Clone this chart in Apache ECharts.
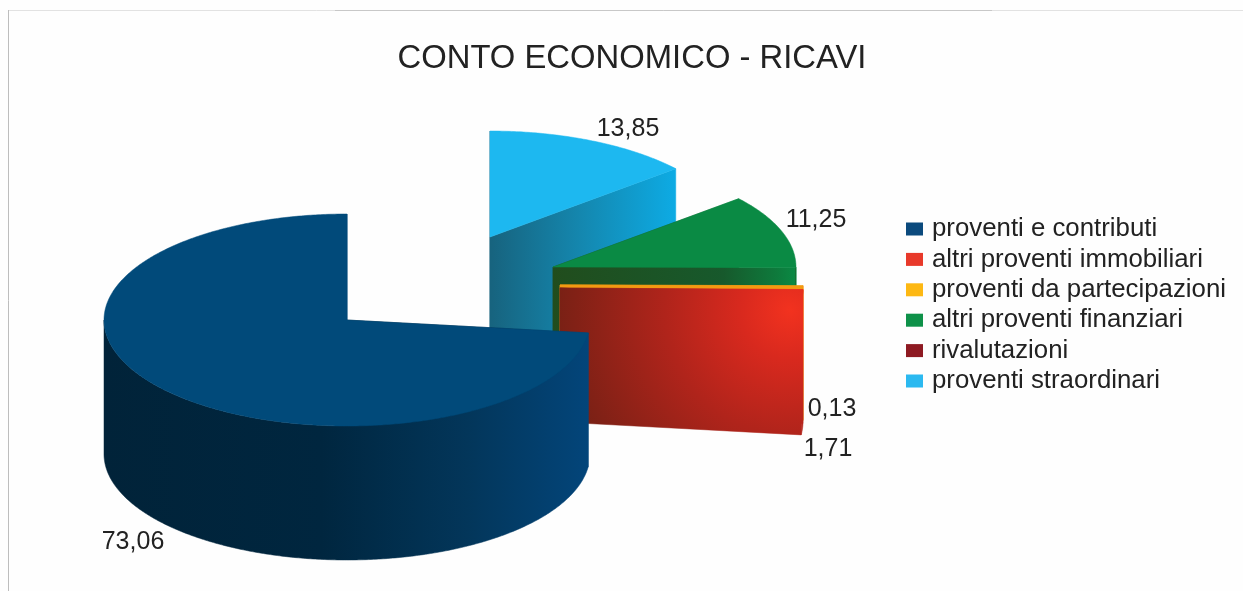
<!DOCTYPE html>
<html>
<head>
<meta charset="utf-8">
<style>html,body{margin:0;padding:0;background:#fff}#chart{width:1243px;height:591px}</style>
<script src="https://cdn.jsdelivr.net/npm/echarts@6/dist/echarts.min.js"></script>
</head>
<body>
<div id="chart"></div>
<script>
const categories = ['proventi e contributi', 'altri proventi immobiliari', 'proventi da partecipazioni', 'altri proventi finanziari', 'rivalutazioni', 'proventi straordinari'];
const values = [73.06, 1.71, 0.13, 11.25, 0, 13.85];
const legendColors = ['#0b4a7d', '#e8392a', '#fdb813', '#0e9149', '#8e1a22', '#2bb9f0'];

// layout of the exploded pie
const RX = 243, RY = 106, DEPTH = 134;
const centers = [[347, 320], [560, 288], [560, 285], [553, 267], [553, 267], [490, 237]];
const labelPos = [[133, 542], [828, 449], [832, 409], [816, 220], [0, 0], [628, 129]];
const zOrder = [5, 4, 3.5, 3, 2, 1];

const h = (stops, x, y, x2, y2) => ({
  type: 'linear', x: x || 0, y: y || 0, x2: x2 === undefined ? 1 : x2, y2: y2 || 0,
  colorStops: stops.map(s => ({offset: s[0], color: s[1]}))
});
// global so the red faces share one light spot
const redFill = {
  type: 'radial', x: 790, y: 310, r: 250, global: true,
  colorStops: [{offset: 0, color: '#f2321f'}, {offset: 0.2, color: '#d8291e'}, {offset: 0.5, color: '#b0241b'}, {offset: 1, color: '#702014'}]
};
const topFills = ['#014a7a', redFill, '#f39a12', '#0a8a44', '#8e1a22', '#1db8f0'];
const wallFills = [
  h([[0, '#012339'], [0.45, '#00263f'], [0.75, '#03365a'], [1, '#03457a']]),
  redFill,
  '#f39a12',
  h([[0, '#214d1d'], [0.7, '#17592c'], [0.92, '#0e7a3c'], [1, '#0a8a44']]),
  '#6d141a',
  h([[0, '#17637e'], [0.5, '#1488b0'], [1, '#0dabe4']])
];

const total = values.reduce((a, b) => a + b, 0);
function startAngle(i) {
  let s = 0;
  for (let k = 0; k < i; k++) s += values[k];
  return s / total * Math.PI * 2;
}
// angles run counter-clockwise from the top of the ellipse
function pt(c, a, dy) {
  return [c[0] - RX * Math.sin(a), c[1] - RY * Math.cos(a) + (dy || 0)];
}
function arc(c, a0, a1, dy) {
  const pts = [];
  const n = Math.max(2, Math.ceil(Math.abs(a1 - a0) / 0.01));
  for (let k = 0; k <= n; k++) pts.push(pt(c, a0 + (a1 - a0) * k / n, dy));
  return pts;
}
function poly(points, fill) {
  return {type: 'polygon', shape: {points}, style: {fill, stroke: fill, lineWidth: 0.5}};
}

function renderSlice(i) {
  return function (params, api) {
    const v = api.value(0);
    if (!v) return {type: 'group', children: []};
    const c = centers[i];
    const a0 = startAngle(i), a1 = a0 + v / total * Math.PI * 2;
    const kids = [];
    // radial faces, the one further back first
    [a0, a1].sort((p, q) => pt(c, p)[1] - pt(c, q)[1]).forEach(a => {
      kids.push(poly([c, pt(c, a), pt(c, a, DEPTH), [c[0], c[1] + DEPTH]], wallFills[i]));
    });
    // outer wall, only the part turned to the viewer
    const f0 = Math.max(a0, Math.PI / 2), f1 = Math.min(a1, Math.PI * 1.5);
    if (f1 > f0) {
      kids.push(poly(arc(c, f0, f1).concat(arc(c, f1, f0, DEPTH)), wallFills[i]));
    }
    // top face
    kids.push(poly([c].concat(arc(c, a0, a1)), topFills[i]));
    kids.push({
      type: 'text', z2: 10,
      style: {
        x: labelPos[i][0], y: labelPos[i][1],
        text: v.toFixed(2).replace('.', ','),
        fill: '#222', font: '25px "Liberation Sans"', align: 'center', verticalAlign: 'middle'
      }
    });
    return {type: 'group', children: kids};
  };
}

const chart = echarts.init(document.getElementById('chart'), null, {renderer: 'canvas'});
chart.setOption({
  animation: false,
  backgroundColor: '#fefefe',
  title: {
    text: 'CONTO ECONOMICO - RICAVI',
    left: 627, top: 54, textAlign: 'center', textVerticalAlign: 'middle',
    textStyle: {fontFamily: 'Liberation Sans', fontSize: 32.8, fontWeight: 'normal', color: '#222'}
  },
  legend: {
    orient: 'vertical', left: 906, top: 214,
    itemWidth: 17, itemHeight: 13, itemGap: 0.4, padding: 0,
    icon: 'rect',
    data: categories,
    textStyle: {fontFamily: 'Liberation Sans', fontSize: 25.8, color: '#222', padding: [0, 0, 0, 4], lineHeight: 30}
  },
  graphic: [
    {type: 'line', shape: {x1: 8, y1: 10.5, x2: 1243, y2: 10.5}, style: {stroke: '#e2e2e2', lineWidth: 1}},
    {type: 'line', shape: {x1: 335, y1: 10.5, x2: 992, y2: 10.5}, style: {stroke: '#c8c8c8', lineWidth: 1}},
    {type: 'line', shape: {x1: 8.5, y1: 10, x2: 8.5, y2: 591}, style: {stroke: '#bdbdbd', lineWidth: 1}}
  ],
  series: categories.map((name, i) => ({
    type: 'custom',
    name,
    z: zOrder[i],
    coordinateSystem: 'none',
    itemStyle: {color: legendColors[i]},
    renderItem: renderSlice(i),
    data: [[values[i]]]
  }))
});
</script>
</body>
</html>
